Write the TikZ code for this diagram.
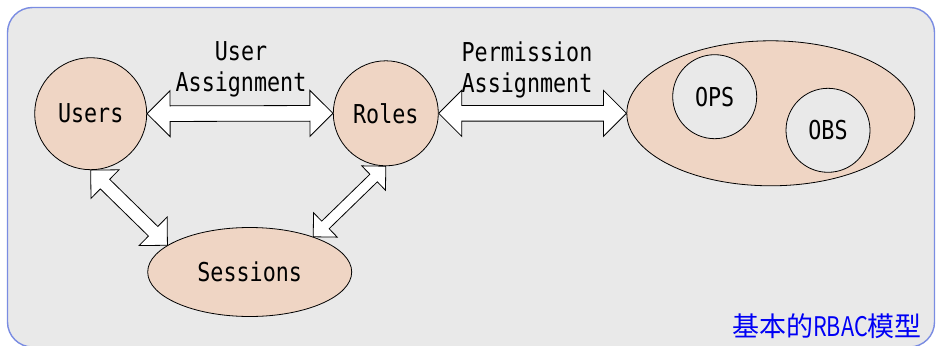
\documentclass[tikz,border=0pt]{standalone}
\usepackage{fontspec}
\usetikzlibrary{calc,shapes.geometric}
\newfontfamily\diagfont[FakeStretch=0.835]{DejaVu Sans Mono}
\newfontfamily\cjkfont{Noto Sans CJK SC}
\definecolor{peach}{RGB}{239,213,196}
\definecolor{panel}{RGB}{233,233,233}
\definecolor{framec}{RGB}{122,140,226}
\definecolor{capblue}{RGB}{0,0,245}
\pgfdeclarelayer{frame}
\pgfdeclarelayer{links}
\pgfsetlayers{frame,links,main}
\tikzset{
  entity/.style={circle, draw, fill=peach, inner sep=0pt, line width=0.8pt},
  group/.style={ellipse, draw, fill=peach, inner sep=0pt, line width=0.8pt},
  member/.style={circle, draw, fill=panel, inner sep=0pt, line width=0.8pt, minimum size=84pt},
  arrowbody/.style={draw=black, fill=white, line width=0.8pt, line join=miter},
}
\newcommand\blockarrow[4]{%
\pgfmathsetmacro\arrhd{1.4142*#3}%
\pgfmathsetmacro\arrsd{veclen(#3,#4)}%
\pgfmathsetmacro\arrsa{atan(#4/#3)}%
\draw[arrowbody] (#1) -- ($(#1)!\arrhd pt!45:(#2)$) -- ($(#1)!\arrsd pt!\arrsa:(#2)$)
  -- ($(#2)!\arrsd pt!-\arrsa:(#1)$) -- ($(#2)!\arrhd pt!-45:(#1)$) -- (#2)
  -- ($(#2)!\arrhd pt!45:(#1)$) -- ($(#2)!\arrsd pt!\arrsa:(#1)$)
  -- ($(#1)!\arrsd pt!-\arrsa:(#2)$) -- ($(#1)!\arrhd pt!-45:(#2)$) -- cycle;}
\begin{document}
\begin{tikzpicture}[x=1pt, y=-1pt, font=\diagfont\fontsize{26}{31}\selectfont]
\useasboundingbox (0,0) rectangle (936,345);
\begin{pgfonlayer}{frame}
\draw[framec, fill=panel, line width=1.4pt, rounded corners=25pt] (7.5,7.5) rectangle (934.5,347);
\end{pgfonlayer}
\node[entity, minimum size=112pt] (users) at (90.7,113.7) {Users};
\node[entity, minimum size=105pt] (roles) at (385.8,113.3) {Roles};
\node[group, minimum width=204pt, minimum height=89pt] (sessions) at (249.7,272) {Sessions};
\node[group, minimum width=288pt, minimum height=145pt] (perms) at (770.8,113.3) {};
\node[member] (ops) at (714.7,96.7) {OPS};
\node[member] (obs) at (828,130.3) {OBS};
\node[align=center] (ua) at (241,69.7) {User\\Assignment};
\node[align=center] (pa) at (527,69.7) {Permission\\Assignment};
\node[anchor=base east, inner sep=0pt, text=capblue, font=\cjkfont\fontsize{27}{32}\selectfont] (caption) at (922,336) {基本的{\addfontfeature{FakeStretch=0.8}RBAC}模型};
\begin{pgfonlayer}{links}
\blockarrow{users.east}{roles.west}{23}{7.8}
\blockarrow{roles.east}{perms.west}{23}{7.8}
\blockarrow{users.south}{sessions.162}{20}{6.7}
\blockarrow{roles.south}{sessions.29}{17}{5.3}
\end{pgfonlayer}
\end{tikzpicture}
\end{document}
